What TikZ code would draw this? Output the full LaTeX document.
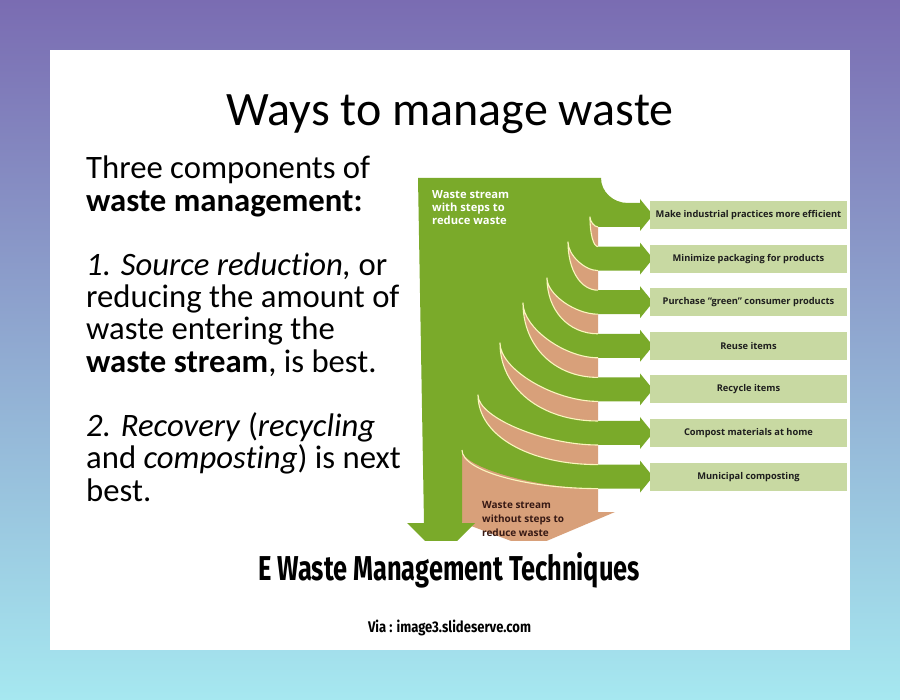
\documentclass[tikz,border=0pt]{standalone}
\usepackage{fontspec}
\usepackage{graphicx}
\setmainfont{Carlito}[Ligatures=NoCommon]
\newfontfamily\figfont{Open Sans}
\newfontfamily\capfont{Fira Sans}
\definecolor{bgtop}{RGB}{122,108,178}
\definecolor{bgmid}{RGB}{136,150,206}
\definecolor{bgbot}{RGB}{166,232,240}
\definecolor{wgreen}{RGB}{122,170,42}
\definecolor{wsalmon}{RGB}{216,160,122}
\definecolor{wbox}{RGB}{200,217,162}
\definecolor{wline}{RGB}{250,246,190}
\definecolor{boxtext}{RGB}{30,30,30}
\definecolor{salmontext}{RGB}{55,25,20}
\begin{document}
\begin{tikzpicture}[x=1pt,y=-1pt,
  boxnode/.style={fill=wbox, minimum width=197pt, minimum height=28pt, inner sep=0pt,
    font=\figfont\bfseries\fontsize{9.3}{11}\selectfont, text=boxtext},
  bodyline/.style={anchor=base west, inner sep=0pt, font=\fontsize{32.7}{38}\selectfont},
  figline/.style={anchor=base west, inner sep=0pt, font=\figfont\bfseries\fontsize{10}{12}\selectfont},
  greenline/.style={figline, text=white, font=\figfont\bfseries\fontsize{11.2}{13}\selectfont},
  wyline/.style={draw=wline, line width=1.1pt, line join=round}]
\useasboundingbox (0,0) rectangle (900,700);
\shade[top color=bgtop, middle color=bgmid, bottom color=bgbot] (0,0) rectangle (900,700);
\fill[white] (50,50) rectangle (850,650);

% title
\node[anchor=base, inner sep=0pt, font=\fontsize{48}{56}\selectfont] (title) at (450,126) {Ways to manage waste};

% left text
\begin{scope}
\clip (60,140) rectangle (399,520);
\node[bodyline] (l1) at (86,179) {Three components of};
\node[bodyline] (l2) at (86,211.2) {\textbf{waste management:}};
\node[bodyline] (l3) at (86,275.6) {\textit{1. Source reduction,} or};
\node[bodyline] (l4) at (86,307.8) {reducing the amount of};
\node[bodyline] (l5) at (86,340) {waste entering the};
\node[bodyline] (l6) at (86,372.2) {\textbf{waste stream}, is best.};
\node[bodyline] (l7) at (86,436.6) {\textit{2. Recovery} (\textit{recycling}};
\node[bodyline] (l8) at (86,468.8) {and \textit{composting}) is next};
\node[bodyline] (l9) at (86,501) {best.};
\end{scope}

% diagram
\begin{scope}
\clip (0,0) rectangle (900,540);
\fill[wsalmon] (455,210) -- (598,210) -- (598,512) -- (615,512) -- (530,548) -- (455,520) -- cycle;
\fill[wgreen] (418,178) -- (601,178) .. controls (601,191.8) and (613.1,203) .. (628,203)
  -- (640,203) -- (640,199) -- (653,215) -- (640,231) -- (640,227) -- (598,227)
  .. controls (594.4,227) and (590,221.5) .. (590,217)
  \foreach \p/\q/\c/\pn/\qn in {590/217/258.6/568/242, 568/242/302.2/547/278, 547/278/345.8/523/303,
      523/303/389.4/500/343, 500/343/433/478/395, 478/395/476.6/462/450} {
    .. controls (\p,{\q+0.58*(\c-12-\q)}) and ({598-0.58*(598-\p)},\c-12) .. (598,\c-12)
    -- (640,\c-12) -- (640,\c-16) -- (653,\c) -- (640,\c+16) -- (640,\c+12) -- (598,\c+12)
    .. controls ({598-0.45*(598-\pn)},\c+12) and (\pn,{\qn+0.45*(\c+12-\qn)}) .. (\pn,\qn)
  }
  -- (462,523) -- (475,523) -- (441,557) -- (407,523) -- (424,523) -- cycle;
\foreach \p/\q/\cu/\cd in {590/217/215/258.6, 568/242/258.6/302.2, 547/278/302.2/345.8,
    523/303/345.8/389.4, 500/343/389.4/433, 478/395/433/476.6} {
  \draw[wyline] (598,\cu+12) .. controls ({598-0.45*(598-\p)},\cu+12) and (\p,{\q+0.45*(\cu+12-\q)}) .. (\p,\q)
    .. controls (\p,{\q+0.58*(\cd-12-\q)}) and ({598-0.58*(598-\p)},\cd-12) .. (598,\cd-12);
}
\draw[wyline] (598,488.6) .. controls (527,488.6) and (462,471) .. (462,450);
\node[greenline] (g1) at (432,199) {Waste stream};
\node[greenline] (g2) at (432,212) {with steps to};
\node[greenline] (g3) at (432,225) {reduce waste};
\node[figline, text=salmontext] (s1) at (482,508) {Waste stream};
\node[figline, text=salmontext] (s2) at (482,522) {without steps to};
\node[figline, text=salmontext] (s3) at (482,536) {reduce waste};
\end{scope}

% boxes
\node[boxnode] (b1) at (748.5,215) {Make industrial practices more efficient};
\node[boxnode] (b2) at (748.5,258.6) {Minimize packaging for products};
\node[boxnode] (b3) at (748.5,302.2) {Purchase “green” consumer products};
\node[boxnode] (b4) at (748.5,345.8) {Reuse items};
\node[boxnode] (b5) at (748.5,389.4) {Recycle items};
\node[boxnode] (b6) at (748.5,433) {Compost materials at home};
\node[boxnode] (b7) at (748.5,476.6) {Municipal composting};

% caption
\node[anchor=base, inner sep=0pt] (cap) at (449,580) {\resizebox{382pt}{28pt}{\capfont\bfseries E Waste Management Techniques}};
\node[anchor=base, inner sep=0pt] (via) at (449.5,632) {\resizebox{163pt}{12.5pt}{\capfont\bfseries Via : image3.slideserve.com}};
\end{tikzpicture}
\end{document}
